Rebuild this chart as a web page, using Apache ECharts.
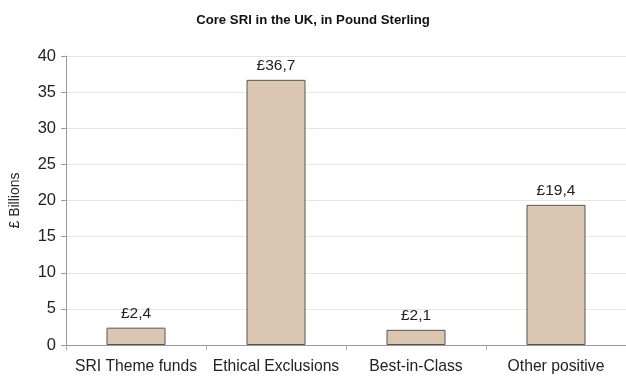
<!DOCTYPE html>
<html><head><meta charset="utf-8">
<script src="https://cdn.jsdelivr.net/npm/echarts@6/dist/echarts.min.js"></script>
<style>html,body{margin:0;padding:0;background:#fff}#c{width:626px;height:377px}</style>
</head><body><div id="c"></div>
<script>
const categories = ["SRI Theme funds", "Ethical Exclusions", "Best-in-Class", "Other positive"];
const values = [2.4, 36.7, 2.1, 19.4];
const yTicks = [0, 5, 10, 15, 20, 25, 30, 35, 40];

const chart = echarts.init(document.getElementById('c'));
chart.setOption({
  animation: false,
  title: {
    text: 'Core SRI in the UK, in Pound Sterling',
    left: 'center', top: 9,
    textStyle: {fontFamily: 'Liberation Sans, Arial', fontSize: 13.2, fontWeight: 'bold', color: '#111'}
  },
  grid: {left: 62, right: -6, top: 56, bottom: 32},
  xAxis: {
    type: 'category', data: categories,
    axisLine: {lineStyle: {color: '#999'}},
    axisTick: {show: true, length: 5, lineStyle: {color: '#aaa'}},
    axisLabel: {interval: 0, hideOverlap: false, fontFamily: 'Liberation Sans, Arial', fontSize: 15.7, color: '#222', margin: 14}
  },
  yAxis: {
    type: 'value', min: yTicks[0], max: yTicks[yTicks.length - 1], interval: 5,
    name: '£ Billions', nameLocation: 'middle', nameGap: 44,
    nameTextStyle: {fontFamily: 'Liberation Sans, Arial', fontSize: 14, color: '#222'},
    axisLine: {show: true, lineStyle: {color: '#999'}},
    axisTick: {show: true, length: 5, lineStyle: {color: '#999'}},
    axisLabel: {fontFamily: 'Liberation Sans, Arial', fontSize: 16.5, color: '#222', margin: 10},
    splitLine: {lineStyle: {color: '#e6e6e6'}}
  },
  series: [{
    type: 'bar', data: values, barWidth: 59,
    itemStyle: {color: '#dbc7b1', borderColor: '#555', borderWidth: 1},
    label: {
      show: true, position: 'top', distance: 6,
      fontFamily: 'Liberation Sans, Arial', fontSize: 15.5, color: '#222',
      formatter: p => '£' + String(p.value).replace('.', ',')
    }
  }]
});
</script></body></html>
